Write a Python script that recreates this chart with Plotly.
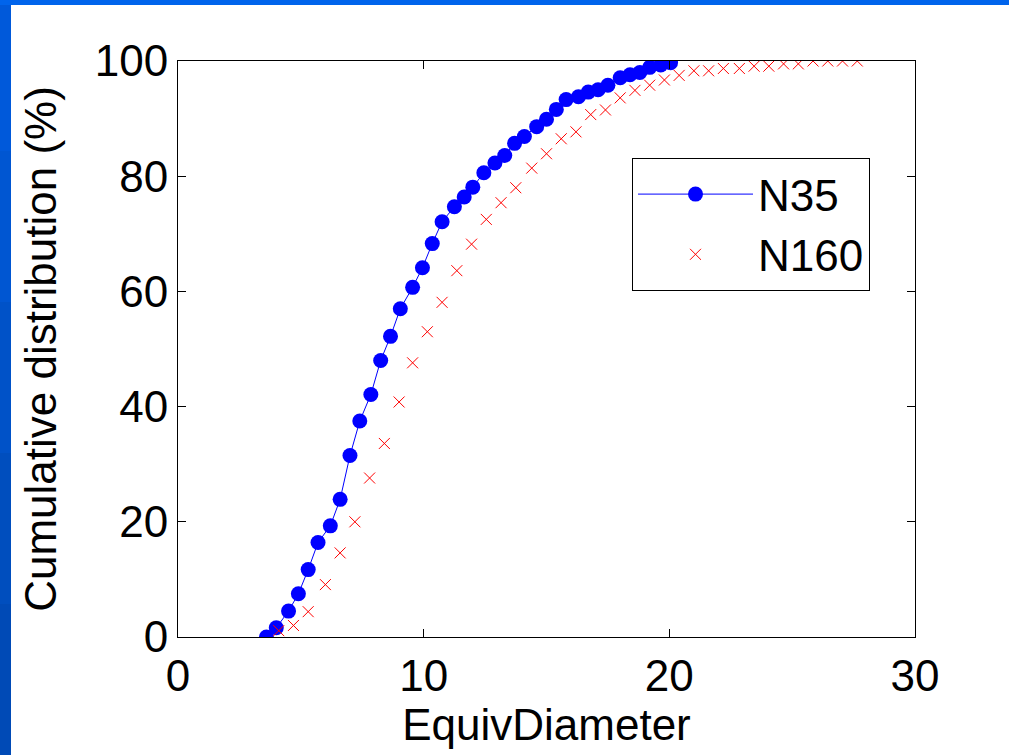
import plotly.graph_objects as go

# N35 series (blue circles joined by a line)
n35_x = [3.6, 4.0, 4.5, 4.9, 5.3, 5.7, 6.2, 6.6, 7.0, 7.4, 7.85, 8.25, 8.65, 9.05,
         9.55, 9.95, 10.35, 10.75, 11.25, 11.65, 12.0, 12.45, 12.9, 13.3, 13.7,
         14.1, 14.6, 15.0, 15.4, 15.8, 16.3, 16.7, 17.1, 17.5, 18.0, 18.4, 18.8,
         19.2, 19.65, 20.05]
n35_y = [0, 1.6, 4.5, 7.5, 11.7, 16.4, 19.3, 23.9, 31.5, 37.5, 42.1, 48.0, 52.2,
         57.0, 60.7, 64.1, 68.3, 72.1, 74.7, 76.4, 78.1, 80.6, 82.3, 83.6, 85.7,
         86.9, 88.6, 89.9, 91.6, 93.3, 93.8, 94.6, 95.0, 95.8, 97.1, 97.6, 98.0,
         98.9, 99.3, 99.7]

# N160 series (red crosses only)
n160_x = [4.1, 4.7, 5.3, 6.0, 6.6, 7.2, 7.8, 8.4, 9.0, 9.55, 10.15, 10.75, 11.35,
          11.95, 12.55, 13.15, 13.75, 14.4, 15.0, 15.6, 16.2, 16.8, 17.4, 18.0,
          18.6, 19.2, 19.8, 20.4, 21.0, 21.6, 22.2, 22.85, 23.45, 24.05, 24.65,
          25.25, 25.85, 26.45, 27.05, 27.65]
n160_y = [1.1, 2.0, 4.4, 9.1, 14.6, 20.0, 27.6, 33.6, 40.8, 47.6, 53.0, 58.1, 63.6,
          68.2, 72.5, 75.4, 78.0, 81.4, 83.9, 86.5, 87.7, 90.7, 91.5, 93.6, 94.9,
          95.8, 96.7, 97.5, 98.3, 98.3, 98.7, 98.7, 99.1, 99.1, 99.5, 99.5, 100,
          100, 100, 100]

x_ticks = [0, 10, 20, 30]
y_ticks = [0, 20, 40, 60, 80, 100]

FONT = "Arial, Liberation Sans, sans-serif"
FS = 44
W, H = 1009, 755
ML, MR, MT, MB = 178, 94, 61, 118
PW = W - ML - MR
PH = H - MT - MB

fig = go.Figure()

fig.add_trace(go.Scatter(
    x=n35_x, y=n35_y, mode='lines+markers', name='N35',
    line=dict(color='#0000ff', width=1),
    marker=dict(color='#0000ff', size=15, symbol='circle'),
))
fig.add_trace(go.Scatter(
    x=n160_x, y=n160_y, mode='markers', name='N160',
    marker=dict(color='#ff0000', size=11, symbol='x-thin',
                line=dict(color='#ff0000', width=1)),
))

# slide-style blue frame on the left and top edges (pixel -> paper coords)
def px_x(p):
    return (p - ML) / PW

def px_y(p):
    return 1 - (p - MT) / PH

shapes = []
left_cols = ['#0059da', '#0056d2', '#0052c8', '#004ebe', '#004ab6']
n = len(left_cols)
for i, c in enumerate(left_cols):
    shapes.append(dict(type='rect', xref='paper', yref='paper', layer='above',
                       x0=px_x(0), x1=px_x(11),
                       y0=px_y(H * (i + 1) / n), y1=px_y(H * i / n),
                       fillcolor=c, line=dict(width=0)))
shapes.append(dict(type='rect', xref='paper', yref='paper', layer='above',
                   x0=px_x(0), x1=px_x(W), y0=px_y(5), y1=px_y(0),
                   fillcolor='#0064ec', line=dict(width=0)))

axis_common = dict(
    showgrid=False, zeroline=False, showline=True, linecolor='#000000',
    linewidth=1, mirror='ticks', ticks='inside', ticklen=8, tickcolor='#000000',
    tickfont=dict(family=FONT, size=FS, color='#000000'),
)

fig.update_layout(
    width=W, height=H,
    margin=dict(l=ML, r=MR, t=MT, b=MB),
    paper_bgcolor='#ffffff', plot_bgcolor='#ffffff',
    font=dict(family=FONT, color='#000000'),
    showlegend=True,
    legend=dict(
        x=px_x(632), y=px_y(158), xanchor='left', yanchor='top',
        bordercolor='#000000', borderwidth=1, bgcolor='#ffffff',
        font=dict(family=FONT, size=FS, color='#000000'),
        itemwidth=115, tracegroupgap=0,
        entrywidth=260, entrywidthmode='pixels',
    ),
    xaxis=dict(range=[0, 30], tickvals=x_ticks,
               title=dict(text='EquivDiameter', font=dict(family=FONT, size=FS),
                          standoff=4),
               **axis_common),
    yaxis=dict(range=[0, 100], tickvals=y_ticks,
               title=dict(text='Cumulative distribution (%)',
                          font=dict(family=FONT, size=FS), standoff=24),
               **axis_common),
    shapes=shapes,
)

fig.write_html("out.html", config={'displayModeBar': False},
               post_script="document.body.style.margin='0px';")
